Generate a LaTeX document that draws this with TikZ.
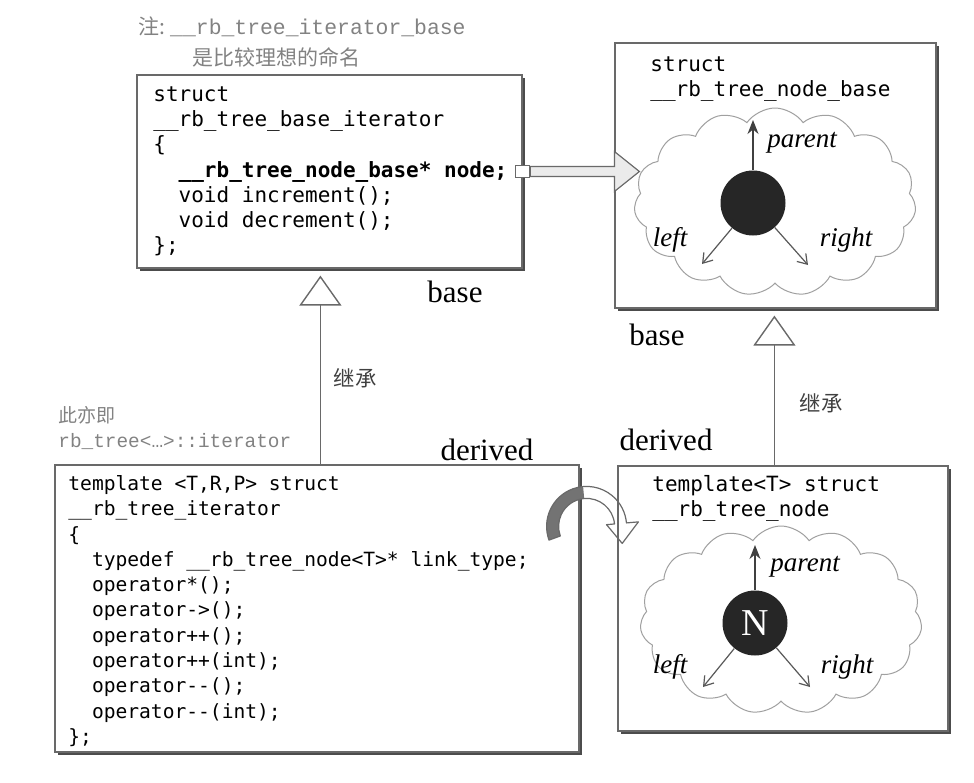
\documentclass[tikz,border=0pt]{standalone}
\usepackage{fontspec}
\setmainfont{Liberation Serif}
\newfontfamily\codefont{DejaVu Sans Mono}
\newfontfamily\notefont{Liberation Mono}
\newfontfamily\cjk{Noto Sans CJK SC}
\usepackage{xcolor}
\definecolor{LineGray}{RGB}{105,105,105}
\definecolor{NoteGray}{RGB}{130,130,130}
\definecolor{CloudGray}{RGB}{160,160,160}
\usepackage{tikz}
\usetikzlibrary{
    arrows.meta,
    calc,
    shadows,
    shapes.symbols
}
\newcommand{\ind}{\phantom{xx}}

\begin{document}
\begin{tikzpicture}[
    x=0.5pt,y=-0.5pt,
    structbox/.style={
        draw=LineGray,
        line width=0.6pt,
        fill=white,
        inner sep=0pt,
        drop shadow={shadow xshift=1.3pt,shadow yshift=-1.3pt,fill=black!70,opacity=1}
    },
    code/.style={
        anchor=north west,
        align=left,
        inner sep=0pt,
        font=\codefont\fontsize{10.5}{12.65}\selectfont
    },
    smallcode/.style={
        code,
        font=\codefont\fontsize{9.8}{12.65}\selectfont
    },
    puff/.style={
        cloud,
        cloud puffs=15,
        cloud puff arc=110,
        aspect=1.5,
        draw=CloudGray,
        line width=0.5pt,
        minimum width=141pt,
        minimum height=94pt,
        inner sep=0pt
    },
    bead/.style={
        circle,
        fill=black!85,
        minimum size=32.5pt,
        inner sep=0pt,
        text=white,
        font=\fontsize{19}{20}\selectfont
    },
    uplink/.style={
        -{Stealth[length=7pt,width=5.5pt]},
        draw=black!75,
        line width=0.6pt
    },
    downlink/.style={
        -{Straight Barb[length=4.5pt,width=6pt]},
        draw=black!65,
        line width=0.6pt
    },
    role/.style={
        font=\itshape\fontsize{13.5}{14}\selectfont
    },
    tag/.style={
        font=\fontsize{15.5}{16}\selectfont
    },
    inherit/.style={
        draw=LineGray,
        line width=0.7pt,
        -{Triangle[open,length=15pt,width=21pt]},
        shorten >=3.5pt
    }
]
%
    \useasboundingbox (0,0) rectangle (974,782);
%
    % Note above the base iterator
%
    \node[
        anchor=west,
        inner sep=0pt,
        text=NoteGray
    ]
    (note1) at (138,27) {
        {\cjk\fontsize{10.5}{12}\selectfont 注:}\ {\notefont\fontsize{10.7}{12}\selectfont \_\_rb\_tree\_iterator\_base}
    };
    \node[
        anchor=west,
        inner sep=0pt,
        text=NoteGray,
        font=\cjk\fontsize{10.5}{12}\selectfont
    ]
    (note2) at (192,57) {是比较理想的命名};
%
    % Structure boxes
%
    \node[
        structbox,
        minimum width=192.5pt,
        minimum height=96.5pt
    ]
    (itbase) at (329.5,171.5) {};
    \node[
        structbox,
        minimum width=160.5pt,
        minimum height=132.5pt
    ]
    (nodebase) at (775.5,175.5) {};
    \node[
        structbox,
        minimum width=262pt,
        minimum height=143.5pt
    ]
    (iter) at (317,608.5) {};
    \node[
        structbox,
        minimum width=165pt,
        minimum height=132.5pt
    ]
    (rbnode) at (783,598.5) {};
%
    \node[code] (itbasetxt) at (153,86) {
        struct\\
        \_\_rb\_tree\_base\_iterator\\
        \{\\
        \ind{\bfseries \_\_rb\_tree\_node\_base* node;}\\
        \ind void increment();\\
        \ind void decrement();\\
        \};
    };
    \node[code] (nodebasetxt) at (650,56) {
        struct\\
        \_\_rb\_tree\_node\_base
    };
    \node[smallcode] (itertxt) at (68,475) {
        template <T,R,P> struct\\
        \_\_rb\_tree\_iterator\\
        \{\\
        \ind typedef \_\_rb\_tree\_node<T>* link\_type;\\
        \ind operator*();\\
        \ind operator->();\\
        \ind operator++();\\
        \ind operator++(int);\\
        \ind operator-{}-();\\
        \ind operator-{}-(int);\\
        \};
    };
    \node[code] (rbnodetxt) at (652,475) {
        template<T> struct\\
        \_\_rb\_tree\_node
    };
%
    % Node pictures
%
    \node[puff] (cb) at (775,202) {};
    \node[bead] (nb) at (753,203) {};
    \coordinate (nbp) at ($(nb.center)+(0,-83)$);
    \coordinate (nbl) at ($(nb.center)+(-51,61)$);
    \coordinate (nbr) at ($(nb.center)+(55,62)$);
    \draw[uplink] (nb) -- (nbp);
    \draw[downlink] (nb) -- (nbl);
    \draw[downlink] (nb) -- (nbr);
    \node[role] (nbpt) at ($(nb.center)+(49,-60)$) {parent};
    \node[role] (nblt) at ($(nb.center)+(-83,37)$) {left};
    \node[role] (nbrt) at ($(nb.center)+(93,37)$) {right};
%
    \node[puff] (cn) at (781,620) {};
    \node[bead] (nn) at (755,623) {N};
    \coordinate (nnp) at ($(nn.center)+(0,-78)$);
    \coordinate (nnl) at ($(nn.center)+(-52,64)$);
    \coordinate (nnr) at ($(nn.center)+(55,64)$);
    \draw[uplink] (nn) -- (nnp);
    \draw[downlink] (nn) -- (nnl);
    \draw[downlink] (nn) -- (nnr);
    \node[role] (nnpt) at ($(nn.center)+(50,-56)$) {parent};
    \node[role] (nnlt) at ($(nn.center)+(-85,44)$) {left};
    \node[role] (nnrt) at ($(nn.center)+(92,44)$) {right};
%
    % Pointer from node member
%
    \node[
        draw=LineGray,
        fill=white,
        line width=0.6pt,
        minimum width=7pt,
        minimum height=6pt,
        inner sep=0pt
    ]
    (ptr) at (itbase.east) {};
    \draw[
        draw=LineGray,
        fill=black!8,
        line width=0.6pt
    ]
    ([yshift=2.5pt]ptr.east)
    --
    ([yshift=2.5pt]ptr.east -| nodebase.west)
    --
    ++(0pt,7.5pt)
    --
    ([xshift=12.5pt]ptr.east -| nodebase.west)
    --
    ++(-12.5pt,-10pt)
    --
    ++(0pt,7.5pt)
    --
    ([yshift=-2.5pt]ptr.east)
    --
    cycle;
%
    % link_type bend arrow
%
    \coordinate (bend) at ($(iter.north east)+(7,62)$);
    \begin{scope}[shift={(bend)}]
        \fill[black!55]
        (160:40) arc[start angle=160,end angle=265,radius=40]
        --
        (265:28) arc[start angle=265,end angle=160,radius=28]
        --
        cycle;
        \draw[
            draw=LineGray,
            line width=0.6pt,
            line join=round
        ]
        (160:40) arc[start angle=160,end angle=355,radius=40]
        --
        (355:52)
        --
        (35.6,17)
        --
        (355:20)
        --
        (355:28) arc[start angle=355,end angle=160,radius=28]
        --
        cycle;
    \end{scope}
%
    % Inheritance
%
    \draw[inherit]
    ([xshift=133pt]iter.north west)
    --
    ([xshift=133pt]iter.north west |- itbase.south);
    \draw[inherit]
    ([xshift=78.5pt]rbnode.north west)
    --
    ([xshift=78.5pt]rbnode.north west |- nodebase.south);
%
    \node[
        text=black!75,
        font=\cjk\fontsize{10.7}{12}\selectfont
    ]
    (inh1) at (355,378) {继承};
    \node[
        text=black!75,
        font=\cjk\fontsize{10.7}{12}\selectfont
    ]
    (inh2) at (821,403) {继承};
%
    \node[tag] (base1) at (455,292) {base};
    \node[tag] (derived1) at (487,450) {derived};
    \node[tag] (base2) at (657,335) {base};
    \node[tag] (derived2) at (666,440) {derived};
%
    \node[
        anchor=west,
        inner sep=0pt,
        text=NoteGray,
        font=\cjk\fontsize{9.5}{11}\selectfont
    ]
    (alias1) at (58,415) {此亦即};
    \node[
        anchor=west,
        inner sep=0pt,
        text=NoteGray,
        font=\notefont\fontsize{9.7}{11}\selectfont
    ]
    (alias2) at (58,442) {rb\_tree<…>::iterator};
%
\end{tikzpicture}
\end{document}
